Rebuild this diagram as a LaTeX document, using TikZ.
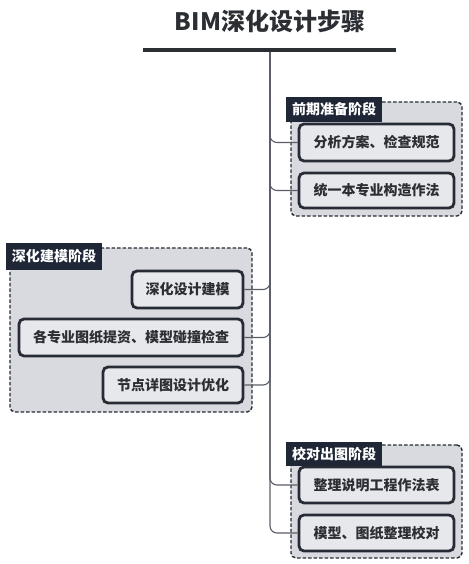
\documentclass[tikz,border=0pt]{standalone}
\usepackage{fontspec}
\setmainfont{Noto Sans CJK SC}
\definecolor{grpfill}{HTML}{D8DADF}
\definecolor{boxfill}{HTML}{E7E8EC}
\definecolor{boxline}{HTML}{262B36}
\definecolor{lblfill}{HTML}{1F2737}
\definecolor{connc}{HTML}{5A5E66}
\definecolor{titlec}{HTML}{2B2E33}
\tikzset{
  grp/.style={draw=boxline, fill=grpfill, line width=1.4pt, dash pattern=on 3.5pt off 2pt, rounded corners=5pt, inner sep=0pt},
  lbl/.style={fill=lblfill, text=white, font=\bfseries\fontsize{14}{16}\selectfont, inner sep=0pt},
  itembox/.style={draw=boxline, fill=boxfill, line width=2.8pt, rounded corners=5pt, inner sep=0pt, font=\bfseries\fontsize{14}{16}\selectfont, text=titlec},
  conn/.style={draw=connc, line width=1.1pt, rounded corners=7pt},
}
\begin{document}
\begin{tikzpicture}[x=1pt,y=-1pt]
\useasboundingbox[fill=white] (0,0) rectangle (468,564);
% title
\node[font=\bfseries\fontsize{24}{28}\selectfont, text=titlec] (title) at (270,21) {BIM深化设计步骤};
\coordinate (hl) at (143,50);
\coordinate (hr) at (396,50);
\coordinate (t) at (270,50);
% groups
\node[grp, minimum width=171, minimum height=114] (g1) at (376.5,159) {};
\node[grp, minimum width=242, minimum height=164] (g2) at (131,330) {};
\node[grp, minimum width=171, minimum height=113] (g3) at (376.5,501.5) {};
% items
\node[itembox, minimum width=155, minimum height=37] (a1) at (376.5,142.5) {分析方案、检查规范};
\node[itembox, minimum width=155, minimum height=35] (a2) at (376.5,190.5) {统一本专业构造作法};
\node[itembox, minimum width=111, minimum height=37] (b1) at (187.5,289.5) {深化设计建模};
\node[itembox, minimum width=224, minimum height=37] (b2) at (131,337.5) {各专业图纸提资、模型碰撞检查};
\node[itembox, minimum width=140, minimum height=36] (b3) at (173,385) {节点详图设计优化};
\node[itembox, minimum width=155, minimum height=36] (c1) at (376.5,485) {整理说明工程作法表};
\node[itembox, minimum width=155, minimum height=36] (c2) at (376.5,533) {模型、图纸整理校对};
% labels
\node[lbl, minimum width=96, minimum height=25] (l1) at (334,109.5) {前期准备阶段};
\node[lbl, minimum width=96, minimum height=27] (l2) at (54,256.5) {深化建模阶段};
\node[lbl, minimum width=96, minimum height=24] (l3) at (334,454) {校对出图阶段};
% connectors
\draw[conn] (t) |- (a1.west);
\draw[conn] (t) |- (a2.west);
\draw[conn] (t) |- (b1.east);
\draw[conn] (t) |- (b2.east);
\draw[conn] (t) |- (b3.east);
\draw[conn] (t) |- (c1.west);
\draw[conn] (t) |- (c2.west);
\draw[draw=titlec, line width=4pt] (hl) -- (hr);
\end{tikzpicture}
\end{document}
